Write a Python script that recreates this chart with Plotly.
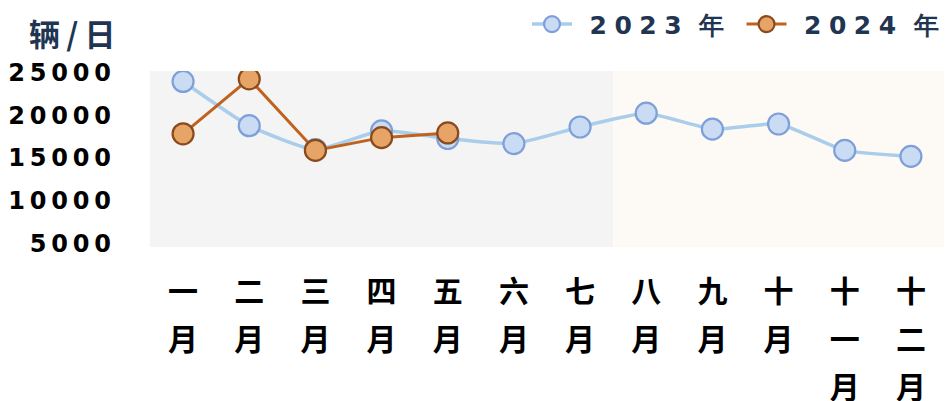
import plotly.graph_objects as go

# Monthly average vehicle flow (vehicles per day)
months = ["一月", "二月", "三月", "四月", "五月", "六月",
          "七月", "八月", "九月", "十月", "十一月", "十二月"]
flow_2023 = [24000, 18800, 16000, 18200, 17300, 16700,
             18650, 20270, 18400, 19000, 15900, 15200]
flow_2024 = [17850, 24300, 15900, 17400, 17950]
y_ticks = [5000, 10000, 15000, 20000, 25000]

NAVY = "#1f3552"
X_RANGE = [-0.5, 11.5]
EN = "\u2002"


def spaced(s, gap="\u2009"):
    return gap.join(s)


def legend_name(year, tail=""):
    return EN + spaced(year, "\u2009\u200a") + EN + "\u2009年" + tail


x_idx = list(range(len(months)))

fig = go.Figure()

fig.add_trace(go.Scatter(
    x=x_idx, y=flow_2023, mode="lines+markers", name=legend_name("2023", EN),
    line=dict(color="#a9cdea", width=3.5, shape="spline", smoothing=0.5),
    marker=dict(size=21, color="#c9dcf3", line=dict(color="#7f9fd8", width=2.2)),
))
fig.add_trace(go.Scatter(
    x=x_idx[:len(flow_2024)], y=flow_2024, mode="lines+markers",
    name=legend_name("2024"),
    line=dict(color="#c0621e", width=3),
    marker=dict(size=21, color="#e6a467", line=dict(color="#8a4a1c", width=2.2)),
))

# shaded halves of the year
fig.add_shape(type="rect", xref="x", yref="paper", x0=-0.5, x1=6.5, y0=0, y1=1,
              fillcolor="#f4f4f4", line_width=0, layer="below")
fig.add_shape(type="rect", xref="x", yref="paper", x0=6.5, x1=11.5, y0=0, y1=1,
              fillcolor="#fdfaf6", line_width=0, layer="below")

fig.add_annotation(text="辆\u2009/\u2009日", xref="paper", yref="paper",
                   x=-0.042, y=1.22, xanchor="right", yanchor="middle",
                   showarrow=False,
                   font=dict(size=31, color=NAVY, family="Noto Sans CJK SC",
                             weight="bold"))

# month names are written vertically: one character per row, each row on its
# own bottom axis sharing the category scale
tick_font = dict(size=30, color="black", family="Noto Sans CJK SC", weight="bold")
row_standoff = [24, 72, 120]
axis_names = ["xaxis", "xaxis2", "xaxis3"]
axis_refs = ["x", "x2", "x3"]
for row, (ax_name, ax_ref, standoff) in enumerate(
        zip(axis_names, axis_refs, row_standoff)):
    vals = [i for i, m in zip(x_idx, months) if len(m) > row]
    texts = [m[row] for m in months if len(m) > row]
    ax = dict(range=X_RANGE, tickmode="array", tickvals=vals, ticktext=texts,
              showgrid=False, zeroline=False, showline=False, ticks="",
              ticklabelstandoff=standoff, tickfont=tick_font, side="bottom",
              automargin=False)
    if row > 0:
        ax.update(overlaying="x", anchor="y")
        # empty carrier trace so the extra label row gets drawn
        fig.add_trace(go.Scatter(x=[x_idx[0]], y=[None], xaxis=ax_ref, yaxis="y",
                                 mode="markers", showlegend=False,
                                 hoverinfo="skip"))
    fig.update_layout({ax_name: ax})

fig.update_layout(
    width=945, height=401,
    margin=dict(l=150, r=1, t=69, b=154),
    paper_bgcolor="white", plot_bgcolor="white",
    showlegend=True,
    legend=dict(orientation="h", x=1.0, xanchor="right", y=1.265, yanchor="middle",
                font=dict(size=25, color=NAVY, family="DejaVu Sans", weight="bold"),
                itemwidth=40, bgcolor="rgba(0,0,0,0)"),
    yaxis=dict(range=[4550, 25230], tickmode="array", tickvals=y_ticks,
               ticktext=[spaced(str(v)) for v in y_ticks],
               showgrid=False, zeroline=False, showline=False, ticks="",
               ticklabelstandoff=38, automargin=False,
               tickfont=dict(size=24, color="black", family="DejaVu Sans",
                             weight="bold")),
)

fig.write_html("out.html")
